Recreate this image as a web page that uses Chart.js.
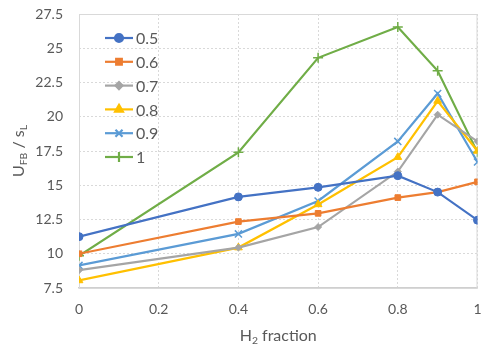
<!DOCTYPE html>
<html>
<head>
<meta charset="utf-8">
<script src="https://cdn.jsdelivr.net/npm/chart.js@4.4.0/dist/chart.umd.min.js"></script>
<style>
  html, body { margin: 0; padding: 0; background: #fff; }
  #wrap { width: 484px; height: 351px; }
</style>
</head>
<body>
<div id="wrap"><canvas id="grafico"></canvas></div>
<script>
// fraccion de H2 en el eje x
const fraccionH2 = [0, 0.4, 0.6, 0.8, 0.9, 1];
// relacion de equivalencia de cada serie
const series = ['0.5', '0.6', '0.7', '0.8', '0.9', '1'];
const uFB_05 = [11.25, 14.15, 14.85, 15.7, 14.5, 12.45];
const uFB_06 = [10.0, 12.35, 12.95, 14.1, 14.5, 15.25];
const uFB_07 = [8.8, 10.45, 11.95, 16.0, 20.15, 18.2];
const uFB_08 = [8.05, 10.45, 13.6, 17.05, 21.15, 17.5];
const uFB_09 = [9.15, 11.45, 13.85, 18.2, 21.7, 16.7];
const uFB_1 = [9.85, 17.4, 24.3, 26.55, 23.35, 17.4];
const ticksY = [7.5, 10, 12.5, 15, 17.5, 20, 22.5, 25, 27.5];

const colores = ['#4472C4', '#ED7D31', '#A5A5A5', '#FFC000', '#5B9BD5', '#70AD47'];
const marcas = ['circle', 'rect', 'rectRot', 'triangle', 'crossRot', 'cross'];
const radios = [4, 4, 3.5, 4.5, 5, 5];
const valores = [uFB_05, uFB_06, uFB_07, uFB_08, uFB_09, uFB_1];

const fuente = 'Lato, "Open Sans", sans-serif';
const gris = '#595959';

const datasets = series.map((nombre, i) => ({
  label: nombre,
  data: fraccionH2.map((x, j) => ({ x: x, y: valores[i][j] })),
  borderColor: colores[i],
  backgroundColor: colores[i],
  pointStyle: marcas[i],
  pointRadius: radios[i],
  pointBorderWidth: (marcas[i] === 'cross' || marcas[i] === 'crossRot') ? 1.5 : 1,
  borderWidth: 2.2,
  tension: 0,
  fill: false
}));

// texto con subindices: lista de [texto, esSub]
function textoSub(ctx, partes, cx, cy, tam) {
  const anchos = partes.map(p => {
    ctx.font = (p[1] ? tam * 0.65 : tam) + 'px ' + fuente;
    return ctx.measureText(p[0]).width;
  });
  let x = cx - anchos.reduce((a, b) => a + b, 0) / 2;
  partes.forEach((p, i) => {
    ctx.font = (p[1] ? tam * 0.65 : tam) + 'px ' + fuente;
    ctx.fillText(p[0], x, p[1] ? cy + tam * 0.3 : cy);
    x += anchos[i];
  });
}

const extras = {
  id: 'extras',
  beforeDatasetsDraw(chart) {
    const ctx = chart.ctx;
    const a = chart.chartArea;
    ctx.save();
    ctx.strokeStyle = '#d9d9d9';
    ctx.lineWidth = 1;
    ctx.strokeRect(a.left + 0.5, a.top + 0.5, a.right - a.left - 1, a.bottom - a.top);
    ctx.restore();
  },
  afterDraw(chart) {
    const ctx = chart.ctx;
    const a = chart.chartArea;
    ctx.save();
    ctx.fillStyle = gris;
    ctx.textBaseline = 'middle';
    ctx.textAlign = 'left';
    // titulo eje x
    textoSub(ctx, [['H', 0], ['2', 1], [' fraction', 0]], (a.left + a.right) / 2, 336, 16);
    // titulo eje y
    ctx.save();
    ctx.translate(19, (a.top + a.bottom) / 2);
    ctx.rotate(-Math.PI / 2);
    textoSub(ctx, [['U', 0], ['FB', 1], [' / s', 0], ['L', 1]], 0, 0, 16);
    ctx.restore();

    // leyenda
    chart.data.datasets.forEach((ds, i) => {
      const y = 38 + i * 23.8;
      ctx.strokeStyle = ds.borderColor;
      ctx.lineWidth = 2.2;
      ctx.beginPath();
      ctx.moveTo(105, y);
      ctx.lineTo(133, y);
      ctx.stroke();
      ctx.fillStyle = ds.backgroundColor;
      Chart.helpers.drawPoint(ctx, {
        pointStyle: ds.pointStyle,
        radius: ds.pointRadius,
        borderWidth: ds.pointBorderWidth,
        rotation: 0
      }, 119, y);
      ctx.fillStyle = gris;
      ctx.font = '16px ' + fuente;
      ctx.fillText(ds.label, 136, y + 1);
    });
    ctx.restore();
  }
};

new Chart(document.getElementById('grafico'), {
  type: 'line',
  data: { datasets: datasets },
  options: {
    responsive: true,
    maintainAspectRatio: false,
    animation: false,
    layout: { padding: { top: 14, right: 3, left: 0, bottom: 0 } },
    plugins: {
      legend: { display: false },
      tooltip: { enabled: false }
    },
    scales: {
      x: {
        type: 'linear',
        min: 0,
        max: 1,
        ticks: {
          stepSize: 0.2,
          padding: 13,
          color: gris,
          font: { family: fuente, size: 14 },
          callback: v => String(Math.round(v * 10) / 10)
        },
        grid: { color: '#d9d9d9', drawTicks: false },
        border: { color: '#cfcfcf', width: 1.5, dash: [2, 2] },
        afterFit: s => {
          s.height = 63;
          s.paddingLeft = 0;
          s.paddingRight = 0;
        }
      },
      y: {
        min: ticksY[0],
        max: ticksY[ticksY.length - 1],
        afterBuildTicks: s => { s.ticks = ticksY.map(v => ({ value: v })); },
        ticks: {
          padding: 16,
          color: gris,
          font: { family: fuente, size: 14 },
          callback: v => String(v)
        },
        grid: { color: '#d9d9d9', drawTicks: false },
        border: { display: false, dash: [2, 2] },
        afterFit: s => {
          s.width = 79;
          s.paddingTop = 0;
          s.paddingBottom = 0;
        }
      }
    }
  },
  plugins: [extras]
});
</script>
</body>
</html>
